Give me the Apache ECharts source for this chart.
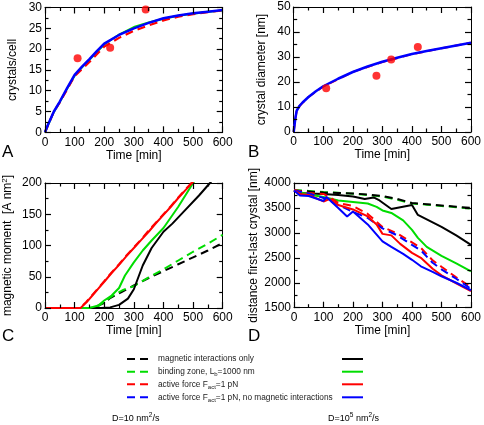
<!DOCTYPE html>
<html><head><meta charset="utf-8">
<script src="https://cdn.jsdelivr.net/npm/echarts@6/dist/echarts.min.js"></script>
<style>html,body{margin:0;padding:0;background:#fff}#c{width:484px;height:425px}</style>
</head><body><div id="c"></div>
<script>
// ---------- DATA ----------
// Panel A: crystals/cell vs time
const aBlue   = [[0,0],[10,1.8],[30,5],[50,7.4],[75,10.7],[100,13.8],[125,15.8],[150,17.6],[175,19.5],[200,21.3],[250,23.4],[300,25],[350,26.3],[400,27.4],[450,28.1],[500,28.6],[550,29.0],[600,29.4]];
const aGreen  = [[0,0],[10,1.7],[30,4.9],[50,7.3],[75,10.5],[100,13.6],[125,15.6],[150,17.4],[175,19.3],[200,21.1],[250,23.5],[300,25.3],[350,26.4],[400,27.3],[450,28.0],[500,28.5],[550,29.0],[600,29.3]];
const aRed    = [[0,0],[30,5],[50,7.2],[100,13.5],[150,16.9],[200,20.6],[250,22.7],[300,24.4],[350,25.7],[400,26.9],[450,27.8],[500,28.4],[550,28.9],[600,29.3]];
const aExp    = [[110,17.8],[220,20.3],[340,29.5]];
// Panel B: crystal diameter vs time
const bBlue   = [[0,0],[5,5],[10,8.5],[20,10.5],[30,11.8],[50,14],[75,16.3],[100,18.3],[150,21.3],[200,24],[250,26.2],[300,28.1],[350,29.7],[400,31.2],[450,32.4],[500,33.5],[550,34.6],[600,35.7]];
const bRed    = [[0,0],[5,5],[10,8.4],[20,10.4],[30,11.7],[50,14],[100,18.2],[200,24],[300,28],[400,31.1],[500,33.5],[600,35.7]];
const bExp    = [[110,17.5],[280,22.5],[330,29],[420,34]];
// Panel C: magnetic moment vs time
const cRedSolid  = [[0,0],[120,0],[140,9],[160,20],[180,31],[200,42],[225,56],[250,69],[275,83],[300,96],[325,109],[350,122],[375,136],[400,149],[425,162],[450,176],[475,189],[500,202],[600,256]];
const cRedDash   = [[0,0],[118,0],[140,10],[160,21],[180,32],[200,43],[225,57],[250,70],[275,84],[300,97],[325,110],[350,124],[375,137],[400,150],[425,163],[450,177],[475,190],[500,203],[600,257]];
const cGreenSolid= [[0,0],[150,0],[180,4],[200,12],[225,20],[250,32],[270,52],[300,73],[330,92],[360,108],[400,128],[450,162],[500,200],[600,265]];
const cGreenDash = [[0,0],[150,0],[180,3],[200,10],[230,20],[260,28],[280,32],[300,35],[350,49],[400,62],[450,76],[500,90],[550,103],[600,117]];
const cBlackSolid= [[0,0],[190,0],[220,1],[250,5],[280,15],[300,30],[330,68],[360,96],[400,122],[430,135],[470,155],[520,180],[557,200],[600,224]];
const cBlackDash = [[0,0],[160,0],[200,8],[220,16],[260,26],[300,36],[350,48],[400,59],[450,70],[500,81],[550,92],[600,104]];
// Panel D: distance first-last crystal vs time
const dBlackDash = [[0,3850],[50,3830],[100,3810],[150,3800],[200,3790],[250,3770],[300,3740],[350,3680],[400,3600],[450,3575],[500,3550],[550,3525],[600,3500]];
const dGreenDash = [[0,3860],[50,3840],[100,3820],[150,3805],[200,3785],[250,3760],[300,3730],[350,3665],[400,3590],[450,3565],[500,3540],[550,3515],[600,3485]];
const dBlackSolid= [[0,3850],[20,3800],[50,3790],[100,3780],[150,3760],[200,3730],[240,3680],[270,3710],[290,3650],[330,3480],[400,3560],[420,3360],[460,3240],[500,3120],[550,2950],[600,2760]];
const dGreenSolid= [[0,3860],[30,3800],[60,3760],[100,3720],[150,3650],[200,3620],[250,3590],[280,3520],[300,3450],[330,3400],[370,3250],[400,3060],[420,2900],[450,2720],[500,2540],[550,2390],[600,2230]];
const dRedDash   = [[0,3860],[50,3800],[100,3780],[120,3720],[150,3600],[200,3540],[250,3380],[300,3120],[350,2990],[400,2810],[430,2700],[470,2450],[500,2320],[550,2110],[600,1910]];
const dBlueDash  = [[0,3850],[50,3790],[100,3700],[150,3560],[200,3420],[250,3300],[300,3090],[350,2950],[400,2760],[430,2650],[470,2400],[500,2270],[550,2080],[600,1880]];
const dRedSolid  = [[0,3850],[20,3780],[50,3760],[100,3630],[120,3680],[150,3560],[200,3470],[250,3330],[280,3170],[300,2980],[330,2950],[360,2780],[400,2600],[430,2500],[470,2280],[500,2150],[550,1990],[600,1830]];
const dBlueSolid = [[0,3850],[20,3750],[50,3740],[100,3640],[110,3720],[150,3500],[180,3330],[200,3430],[250,3170],[300,2830],[330,2720],[370,2580],[400,2460],[430,2330],[470,2220],[500,2130],[550,2000],[600,1850]];

const xRange = [0, 600, 100];
const yRangeA = [0, 30, 5];
const yRangeB = [0, 50, 10];
const yRangeC = [0, 200, 50];
const yRangeD = [1500, 4000, 500];

const legendLabels = ['magnetic interactions only','binding zone, L{sub|b}=1000 nm','active force F{sub|act}=1 pN','active force F{sub|act}=1 pN, no magnetic interactions'];
const legendColors = ['#000000','#00dd00','#ff0000','#0000ff'];

// ---------- CHART ----------
const FONT = '"Liberation Sans", Arial, sans-serif';
const grids = [
  {left:45, top:7.5, width:177.7, height:124.8},
  {left:293.7, top:7, width:177.3, height:125},
  {left:45, top:183, width:177.7, height:125},
  {left:294, top:183, width:177, height:124.7}
];
const yRanges = [yRangeA, yRangeB, yRangeC, yRangeD];
const yNames = ['crystals/cell','crystal diameter [nm]','magnetic moment  [A nm{sup|2}]','distance first-last crystal [nm]'];
const yGaps = [26, 26, 30, 34];

function mainLine(){ return {show:true, lineStyle:{color:'#000',width:1}}; }
function mirrorLine(){ return {show:true, onZero:false, lineStyle:{color:'#000',width:1}}; }
const fmt = v => String(v);

const xAxes = [], yAxes = [];
grids.forEach((g,i)=>{
  xAxes.push({gridIndex:i, type:'value', min:xRange[0], max:xRange[1], interval:xRange[2], position:'bottom',
    axisLine:mainLine(), axisTick:{show:false}, splitLine:{show:false},
    axisLabel:{color:'#000', fontSize:12, fontFamily:FONT, margin:4, formatter:fmt},
    name:'Time [min]', nameLocation:'middle', nameGap:17, nameTextStyle:{color:'#000',fontSize:12,fontFamily:FONT}});
  xAxes.push({gridIndex:i, type:'value', min:xRange[0], max:xRange[1], interval:xRange[2], position:'top',
    axisLine:mirrorLine(), axisTick:{show:false}, splitLine:{show:false}, axisLabel:{show:false}});
  const yr = yRanges[i];
  yAxes.push({gridIndex:i, type:'value', min:yr[0], max:yr[1], interval:yr[2], position:'left',
    axisLine:mainLine(), axisTick:{show:false}, splitLine:{show:false},
    axisLabel:{color:'#000', fontSize:12, fontFamily:FONT, margin:3, formatter:fmt},
    name:yNames[i], nameLocation:'middle', nameGap:yGaps[i],
    nameTextStyle:{color:'#000',fontSize:12,fontFamily:FONT, rich:{sup:{fontSize:8, verticalAlign:'top', padding:[0,0,6,0], color:'#000', fontFamily:FONT}}}});
  yAxes.push({gridIndex:i, type:'value', min:yr[0], max:yr[1], interval:yr[2], position:'right',
    axisLine:mirrorLine(), axisTick:{show:false}, splitLine:{show:false}, axisLabel:{show:false}});
});

function ln(panel, data, color, dashed, width){
  return {type:'line', xAxisIndex:panel*2, yAxisIndex:panel*2, data:data, showSymbol:false, symbol:'none',
    clip:true, animation:false, silent:true,
    lineStyle:{color:color, width:width||2, type: dashed ? [8,5] : 'solid'}};
}
function dots(panel, data){
  return {type:'scatter', xAxisIndex:panel*2, yAxisIndex:panel*2, data:data, symbolSize:8,
    itemStyle:{color:'#ff0000'}, animation:false, silent:true, z:5};
}
// Inside tick marks on all four sides, as segments in data coordinates (lines series)
function tickSegs(panel){
  const yr = yRanges[panel], g = grids[panel];
  const segs = [];
  const yPer = (yr[1]-yr[0]) / g.height, xPer = (xRange[1]-xRange[0]) / g.width;
  for (let k=0; xRange[0]+k*xRange[2]/2 <= xRange[1]+1e-9; k++){
    const v = xRange[0]+k*xRange[2]/2, L = (k%2===0 ? 6 : 3.5) * yPer;
    segs.push({coords:[[v, yr[0]],[v, yr[0]+L]]});
    segs.push({coords:[[v, yr[1]],[v, yr[1]-L]]});
  }
  for (let k=0; yr[0]+k*yr[2]/2 <= yr[1]+1e-9; k++){
    const v = yr[0]+k*yr[2]/2, L = (k%2===0 ? 6 : 3.5) * xPer;
    segs.push({coords:[[xRange[0], v],[xRange[0]+L, v]]});
    segs.push({coords:[[xRange[1], v],[xRange[1]-L, v]]});
  }
  return {type:'lines', coordinateSystem:'cartesian2d', xAxisIndex:panel*2, yAxisIndex:panel*2, data:segs,
    silent:true, animation:false, z:10, polyline:false, clip:false,
    lineStyle:{color:'#000', width:1.2, opacity:1, curveness:0}};
}

const series = [
  ln(0,aGreen,'#00dd00',false,2), ln(0,aRed,'#ff0000',true,2.2), ln(0,aBlue,'#0000ff',false,2.5), dots(0,aExp),
  ln(1,bRed,'#ff0000',true,2), ln(1,bBlue,'#0000ff',false,2.5), dots(1,bExp),
  ln(2,cBlackDash,'#000000',true), ln(2,cGreenDash,'#00dd00',true), ln(2,cBlackSolid,'#000000',false),
  ln(2,cGreenSolid,'#00dd00',false), ln(2,cRedDash,'#ff0000',true), ln(2,cRedSolid,'#ff0000',false),
  ln(3,dGreenDash,'#00dd00',true), ln(3,dBlackDash,'#000000',true), ln(3,dBlackSolid,'#000000',false),
  ln(3,dGreenSolid,'#00dd00',false), ln(3,dRedDash,'#ff0000',true), ln(3,dBlueDash,'#0000ff',true),
  ln(3,dRedSolid,'#ff0000',false), ln(3,dBlueSolid,'#0000ff',false),
  tickSegs(0), tickSegs(1), tickSegs(2), tickSegs(3)
];

const graphic = [];
const letters = [['A',2,144],['B',248,144],['C',2,328],['D',248,328]];
letters.forEach(l=>graphic.push({type:'text', left:l[1], top:l[2], style:{text:l[0], fontSize:17, fontFamily:FONT, fill:'#000'}}));
const rowsY = [359, 371.7, 384.3, 397.3];
legendLabels.forEach((lab,i)=>{
  const y = rowsY[i];
  graphic.push({type:'line', shape:{x1:127,y1:y,x2:149,y2:y}, style:{stroke:legendColors[i], lineWidth:2, lineDash:[8,5]}});
  graphic.push({type:'line', shape:{x1:342,y1:y,x2:363,y2:y}, style:{stroke:legendColors[i], lineWidth:2}});
  graphic.push({type:'text', x:158, y:y, style:{text:lab, fontSize:8.3, fontFamily:FONT, fill:'#222', verticalAlign:'middle',
    rich:{sub:{fontSize:6, fontFamily:FONT, fill:'#222', padding:[6,0,0,0]}}}});
});
graphic.push({type:'text', x:112, y:419, style:{text:'D=10 nm{sup|2}/s', fontSize:9, fontFamily:FONT, fill:'#000', verticalAlign:'middle',
  rich:{sup:{fontSize:6.5, fontFamily:FONT, fill:'#000', padding:[0,0,7,0]}}}});
graphic.push({type:'text', x:328, y:419, style:{text:'D=10{sup|5} nm{sup|2}/s', fontSize:9, fontFamily:FONT, fill:'#000', verticalAlign:'middle',
  rich:{sup:{fontSize:6.5, fontFamily:FONT, fill:'#000', padding:[0,0,7,0]}}}});

const chart = echarts.init(document.getElementById('c'), null, {renderer:'canvas'});
chart.setOption({animation:false, backgroundColor:'#fff', grid:grids, xAxis:xAxes, yAxis:yAxes, series:series, graphic:graphic});
</script></body></html>
